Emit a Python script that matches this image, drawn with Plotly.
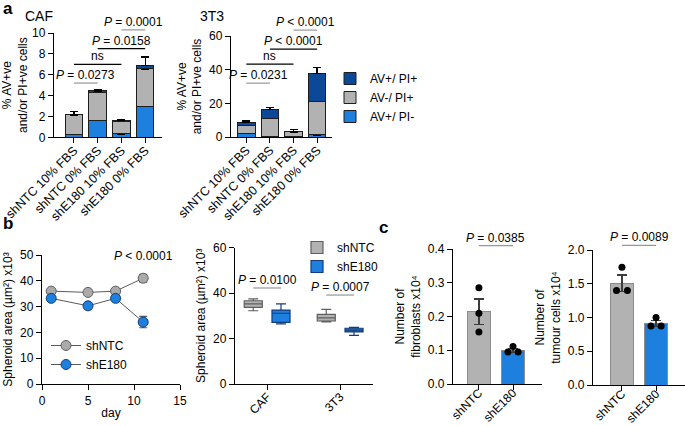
import plotly.graph_objects as go

W, H = 685, 426

# ---- panel a: apoptosis (stacked bars) ----
conditions = ["shNTC 10% FBS", "shNTC 0% FBS", "shE180 10% FBS", "shE180 0% FBS"]
stack_names = ["AV+/ PI-", "AV-/ PI+", "AV+/ PI+"]
stack_colors = ["rgb(30,128,222)", "rgb(178,178,178)", "rgb(12,72,152)"]

caf_pi_neg = [0.25, 1.65, 0.33, 3.0]
caf_neg_pi = [1.9, 2.65, 1.22, 3.55]
caf_pos_pos = [0.07, 0.15, 0.05, 0.35]
caf_err = [[0.05, 0.35, 0.05, 0.22], [0, 0, 0, 0], [0.28, 0.1, 0.08, 0.8]]

t3_pi_neg = [2.2, 0.3, 0.5, 1.2]
t3_neg_pi = [4.6, 10.8, 2.5, 19.8]
t3_pos_pos = [1.7, 5.3, 0.2, 16.8]
t3_err = [[1.6, 0, 0.7, 0], [0, 2.4, 0, 3.9], [1.0, 1.0, 1.4, 3.3]]

caf_pairs = [(0, 1), (0, 2), (1, 3), (2, 3)]
caf_levels = [5.2, 7.0, 8.5, 10.3]
caf_labels = ["<i>P</i> = 0.0273", "ns", "<i>P</i> = 0.0158", "<i>P</i> = 0.0001"]
t3_pairs = [(0, 1), (0, 2), (1, 3), (2, 3)]
t3_levels = [32.0, 43.3, 52.2, 63.5]
t3_labels = ["<i>P</i> = 0.0231", "ns", "<i>P</i> < 0.0001", "<i>P</i> < 0.0001"]
bracket_dark = [False, True, True, False]

# ---- panel b: spheroid growth ----
days = [1, 5, 8, 11]
ntc_area = [36.0, 35.5, 36.0, 41.0]
ntc_area_err = [0.4, 0.4, 0.4, 1.5]
e180_area = [33.2, 30.3, 33.2, 24.0]
e180_area_err = [0.4, 0.4, 0.4, 2.2]

cell_lines = ["CAF", "3T3"]
ntc_box = dict(lowerfence=[32.2, 27.3], q1=[33.7, 27.7], median=[35.2, 29.1], q3=[36.6, 30.6], upperfence=[37.4, 32.8])
e180_box = dict(lowerfence=[26.4, 21.4], q1=[27.1, 22.9], median=[31.1, 23.7], q3=[32.5, 24.5], upperfence=[35.2, 24.9])
box_p_labels = ["<i>P</i> = 0.0100", "<i>P</i> = 0.0007"]
box_p_levels = [42.2, 39.1]

# ---- panel c: cell counts ----
groups = ["shNTC", "shE180"]
fibro_mean = [0.214, 0.099]
fibro_sem = [0.038, 0.006]
fibro_ntc_pts = [0.285, 0.21, 0.154]
fibro_e180_pts = [0.111, 0.095, 0.095]
fibro_ntc_off = [0, 0, 0]
fibro_e180_off = [0, -0.15, 0.15]

tumour_mean = [1.51, 0.915]
tumour_sem = [0.12, 0.045]
tumour_ntc_pts = [1.745, 1.40, 1.40]
tumour_e180_pts = [1.0, 0.875, 0.875]
tumour_ntc_off = [0, -0.16, 0.16]
tumour_e180_off = [0, -0.15, 0.15]

GRAY = "rgb(178,178,178)"
BLUE = "rgb(30,128,222)"

# axis ranges (used for axes and for placing the significance brackets)
rng = {
    "x": [-0.84, 3.71], "y": [0, 10],
    "x2": [-0.65, 3.63], "y2": [0, 60],
    "x4": [-0.44, 1.45], "y4": [0, 60],
    "x5": [-0.76, 1.85], "y5": [0, 0.4],
    "x6": [-0.85, 1.85], "y6": [0, 2.0],
}


def dom_x(a, b):
    return [a / W, b / W]


def dom_y(bottom, top):
    return [1 - bottom / H, 1 - top / H]


def frac(v, r):
    return (v - r[0]) / (r[1] - r[0])


fig = go.Figure()

# panel a bars
for axis_id, parts, errs, show in [("", [caf_pi_neg, caf_neg_pi, caf_pos_pos], caf_err, True),
                                   ("2", [t3_pi_neg, t3_neg_pi, t3_pos_pos], t3_err, False)]:
    for vals, err, name, col in zip(parts, errs, stack_names, stack_colors):
        fig.add_trace(go.Bar(
            x=list(range(len(conditions))), y=vals, name=name, width=0.74,
            xaxis="x" + axis_id, yaxis="y" + axis_id, showlegend=show, legend="legend",
            marker=dict(color=col, line=dict(color="rgb(30,30,30)", width=1)),
            error_y=dict(type="data", symmetric=False, array=err, arrayminus=[0] * 4,
                         color="black", thickness=1.3, width=4),
        ))

# panel b left lines
for name, vals, err, col, lcol in [("shNTC", ntc_area, ntc_area_err, "rgb(170,170,170)", "rgb(95,95,95)"),
                                   ("shE180", e180_area, e180_area_err, BLUE, "rgb(20,60,120)")]:
    fig.add_trace(go.Scatter(
        x=days, y=vals, name=name, mode="lines+markers", xaxis="x3", yaxis="y3", legend="legend3",
        line=dict(color="rgb(90,90,90)", width=1),
        marker=dict(size=10, color=col, line=dict(color=lcol, width=1)),
        error_y=dict(type="data", array=err, color="rgb(90,90,90)", thickness=1.2, width=4),
    ))

# panel b right boxes
for name, box, col, lcol in [("shNTC", ntc_box, GRAY, "rgb(95,95,95)"),
                             ("shE180", e180_box, BLUE, "rgb(20,60,120)")]:
    fig.add_trace(go.Box(
        x=cell_lines, name=name, xaxis="x4", yaxis="y4", legend="legend2",
        fillcolor=col, line=dict(color=lcol, width=1.2), whiskerwidth=0.55,
        offsetgroup=name, **box,
    ))

# panel c bars + dots
for axis_id, means, sems, ntc_pts, e180_pts, ntc_off, e180_off in [
        ("5", fibro_mean, fibro_sem, fibro_ntc_pts, fibro_e180_pts, fibro_ntc_off, fibro_e180_off),
        ("6", tumour_mean, tumour_sem, tumour_ntc_pts, tumour_e180_pts, tumour_ntc_off, tumour_e180_off)]:
    fig.add_trace(go.Bar(
        x=[0, 1], y=means, width=0.68, xaxis="x" + axis_id, yaxis="y" + axis_id, showlegend=False,
        marker=dict(color=[GRAY, BLUE], line=dict(color="rgb(140,140,140)", width=1)),
        error_y=dict(type="data", array=sems, color="rgb(60,60,60)", thickness=1.2, width=5),
    ))
    fig.add_trace(go.Scatter(
        x=[0 + o for o in ntc_off] + [1 + o for o in e180_off], y=ntc_pts + e180_pts,
        mode="markers", xaxis="x" + axis_id, yaxis="y" + axis_id, showlegend=False,
        marker=dict(size=7, color="black"),
    ))

shapes = []
annotations = []


def add_brackets(xa, ya, pairs, levels, labels, dark):
    # placed in axis-domain units so brackets above the axis top are not clipped
    for (i, j), lvl, lab, d in zip(pairs, levels, labels, dark):
        yy = frac(lvl, rng[ya])
        shapes.append(dict(type="line", xref=xa + " domain", yref=ya + " domain",
                           x0=frac(i, rng[xa]), x1=frac(j, rng[xa]), y0=yy, y1=yy,
                           line=dict(color="black" if d else "rgb(150,150,150)", width=1.2)))
        annotations.append(dict(xref=xa + " domain", yref=ya + " domain",
                                x=frac((i + j) / 2, rng[xa]), y=yy, text=lab,
                                showarrow=False, xanchor="center", yanchor="bottom", yshift=-1,
                                font=dict(size=12)))


add_brackets("x", "y", caf_pairs, caf_levels, caf_labels, bracket_dark)
add_brackets("x2", "y2", t3_pairs, t3_levels, t3_labels, bracket_dark)
add_brackets("x4", "y4", [(-0.19, 0.19), (0.81, 1.19)], box_p_levels, box_p_labels, [False, False])
add_brackets("x5", "y5", [(0, 1)], [0.41], ["<i>P</i> = 0.0385"], [False])
add_brackets("x6", "y6", [(0, 1)], [2.07], ["<i>P</i> = 0.0089"], [False])

annotations.append(dict(xref="x3", yref="y3", x=11, y=49.6, text="<i>P</i> < 0.0001",
                        showarrow=False, xanchor="center", font=dict(size=12)))

for txt, x, y, size, bold in [("a", 1, 8, 17, True), ("b", 1, 223, 17, True), ("c", 377, 227, 17, True),
                              ("CAF", 23, 16, 14, False), ("3T3", 198, 16, 14, False)]:
    annotations.append(dict(xref="paper", yref="paper", x=x / W, y=1 - y / H, xanchor="left",
                            yanchor="middle", showarrow=False,
                            text=f"<b>{txt}</b>" if bold else txt, font=dict(size=size)))

axis_style = dict(showline=True, linecolor="black", linewidth=1.3, ticks="outside", ticklen=5,
                  tickwidth=1.3, tickcolor="black", showgrid=False, zeroline=False, automargin=False,
                  tickfont=dict(size=12), title_font=dict(size=12), title_standoff=4)
rot_style = dict(axis_style, tickangle=-45, ticklabelstandoff=-5)
rot_style_c = dict(axis_style, tickangle=-45, ticklabelstandoff=-9)

area_title = "Spheroid area (µm²) x10³"

fig.update_layout(
    width=W, height=H, margin=dict(l=0, r=0, t=0, b=0, autoexpand=False),
    paper_bgcolor="white", plot_bgcolor="white",
    font=dict(family="Liberation Sans, Arial, sans-serif", size=12, color="black"),
    barmode="stack", boxmode="group", boxgap=0.24, boxgroupgap=0.35,
    shapes=shapes, annotations=annotations,
    xaxis=dict(rot_style, domain=dom_x(54, 162), anchor="y", range=rng["x"],
               tickvals=list(range(4)), ticktext=conditions, tickfont=dict(size=12.5)),
    yaxis=dict(axis_style, domain=dom_y(137.3, 33), anchor="x", range=rng["y"], dtick=2,
               title_text="% AV+ve<br>and/or PI+ve cells"),
    xaxis2=dict(rot_style, domain=dom_x(231, 332), anchor="y2", range=rng["x2"],
                tickvals=list(range(4)), ticktext=conditions, tickfont=dict(size=12.5)),
    yaxis2=dict(axis_style, domain=dom_y(137, 36), anchor="x2", range=rng["y2"], dtick=20,
                title_text="% AV+ve<br>and/or PI+ve cells"),
    xaxis3=dict(axis_style, domain=dom_x(42, 180), anchor="y3", range=[0, 15], dtick=5,
                title_text="day", title_standoff=2),
    yaxis3=dict(axis_style, domain=dom_y(384, 255), anchor="x3", range=[0, 50], dtick=10,
                title_text=area_title),
    xaxis4=dict(rot_style, domain=dom_x(235, 373), anchor="y4", type="category",
                range=rng["x4"]),
    yaxis4=dict(axis_style, domain=dom_y(384, 247.5), anchor="x4", range=rng["y4"], dtick=20,
                title_text=area_title),
    xaxis5=dict(rot_style_c, domain=dom_x(453, 542), anchor="y5", range=rng["x5"],
                tickvals=[0, 1], ticktext=groups),
    yaxis5=dict(axis_style, domain=dom_y(384, 249), anchor="x5", range=rng["y5"], dtick=0.1,
                tickformat=".1f", title_text="Number of<br>fibroblasts x10⁴"),
    xaxis6=dict(rot_style_c, domain=dom_x(593, 685), anchor="y6", range=rng["x6"],
                tickvals=[0, 1], ticktext=groups),
    yaxis6=dict(axis_style, domain=dom_y(385, 250), anchor="x6", range=rng["y6"], dtick=0.5,
                tickformat=".1f", title_text="Number of<br>tumour cells x10⁴"),
    legend=dict(x=330 / W, y=1 - 64 / H, xanchor="left", yanchor="top", traceorder="reversed",
                bgcolor="rgba(0,0,0,0)", font=dict(size=12)),
    legend2=dict(x=297 / W, y=1 - 233 / H, xanchor="left", yanchor="top",
                 bgcolor="rgba(0,0,0,0)", font=dict(size=12)),
    legend3=dict(x=46 / W, y=1 - 331 / H, xanchor="left", yanchor="top",
                 bgcolor="rgba(0,0,0,0)", font=dict(size=12)),
)

fig.write_html("out.html", config={"displayModeBar": False},
               post_script="document.body.style.margin = '0';")
